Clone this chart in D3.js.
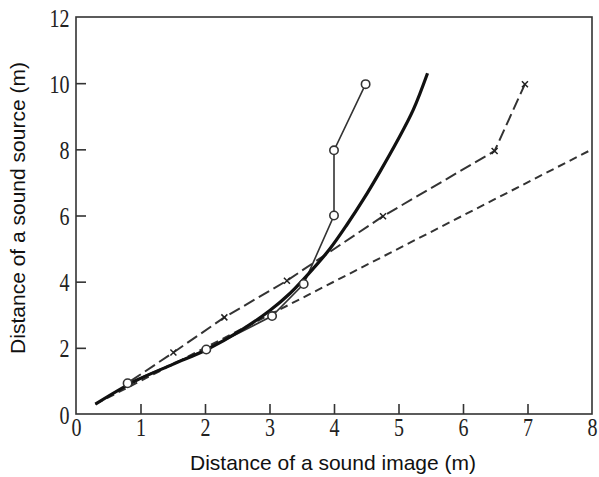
<!DOCTYPE html>
<html>
<head>
<meta charset="utf-8">
<script src="https://cdn.jsdelivr.net/npm/d3@7"></script>
<style>
  body { margin: 0; background: #fff; }
  svg { display: block; }
</style>
</head>
<body>
<script>
const width = 599, height = 477;
const margin = {top: 17, right: 7, bottom: 63, left: 76};

// axis ticks
const xTicks = [0, 1, 2, 3, 4, 5, 6, 7, 8];
const yTicks = [0, 2, 4, 6, 8, 10, 12];

// thick solid curve (image vs source)
const curveX = [0.3, 0.9, 1.5, 2.03, 2.55, 3.0, 3.32, 3.68, 3.94, 4.2, 4.46, 4.72, 4.98, 5.23, 5.45];
const curveY = [0.3, 0.98, 1.5, 1.95, 2.52, 3.12, 3.65, 4.4, 5.0, 5.72, 6.5, 7.35, 8.25, 9.2, 10.3];

// thin solid line with open circles
const circX = [0.8, 2.02, 3.04, 3.53, 4.0, 4.0, 4.49];
const circY = [0.93, 1.95, 2.96, 3.93, 6.0, 7.97, 9.97];

// long dashed line with crosses
const crossX = [0.85, 1.51, 2.3, 3.27, 4.76, 6.49, 6.96];
const crossY = [1.0, 1.86, 2.92, 4.03, 5.98, 7.95, 9.97];

// short dashed reference line
const refX = [0.3, 8];
const refY = [0.3, 8];

const zip = (a, b) => a.map((d, i) => [d, b[i]]);

const x = d3.scaleLinear().domain([0, 8]).range([margin.left, width - margin.right]);
const y = d3.scaleLinear().domain([0, 12]).range([height - margin.bottom, margin.top]);

const svg = d3.select("body").append("svg")
    .attr("width", width)
    .attr("height", height);

const ink = "#222";

// frame
svg.append("rect")
    .attr("x", x(0))
    .attr("y", y(12))
    .attr("width", x(8) - x(0))
    .attr("height", y(0) - y(12))
    .attr("fill", "none")
    .attr("stroke", "#333")
    .attr("stroke-width", 1.6);

const xAxis = svg.append("g")
    .attr("transform", `translate(0,${y(0)})`)
    .call(d3.axisBottom(x).tickValues(xTicks).tickSizeInner(-10).tickSizeOuter(0).tickPadding(4).tickFormat(d3.format("d")));

const yAxis = svg.append("g")
    .attr("transform", `translate(${x(0)},0)`)
    .call(d3.axisLeft(y).tickValues(yTicks).tickSizeInner(-10).tickSizeOuter(0).tickPadding(8).tickFormat(d3.format("d")));

[xAxis, yAxis].forEach(g => {
  g.select(".domain").remove();
  g.selectAll(".tick line")
      .attr("stroke", "#333")
      .attr("stroke-width", 1.6);
  g.selectAll(".tick text")
      .attr("fill", "#222")
      .style("font-family", "'Liberation Serif', 'DejaVu Serif', serif")
      .style("font-size", "25px");
});
// first/last inward ticks sit on the frame
xAxis.selectAll(".tick line").filter(d => d === 0 || d === 8).remove();
yAxis.selectAll(".tick line").filter(d => d === 0 || d === 12).remove();

xAxis.selectAll(".tick text")
    .attr("transform", "scale(0.8,1)");
yAxis.selectAll(".tick text")
    .attr("transform", "scale(0.8,1)")
    .attr("dy", "0.36em");

const line = d3.line().x(d => x(d[0])).y(d => y(d[1]));

// short-dashed reference
svg.append("path")
    .datum(zip(refX, refY))
    .attr("d", line)
    .attr("fill", "none")
    .attr("stroke", "#333")
    .attr("stroke-width", 2)
    .attr("stroke-dasharray", "8,5");

// long dashed with crosses
svg.append("path")
    .datum(zip(crossX, crossY))
    .attr("d", line)
    .attr("fill", "none")
    .attr("stroke", "#333")
    .attr("stroke-width", 2)
    .attr("stroke-dasharray", "12,5");

svg.append("g")
  .selectAll("path")
  .data(zip(crossX, crossY).slice(1))
  .join("path")
    .attr("transform", d => `translate(${x(d[0])},${y(d[1])})`)
    .attr("d", "M-3,-3L3,3M-3,3L3,-3")
    .attr("stroke", ink)
    .attr("stroke-width", 1.5);

// thin solid with circles
svg.append("path")
    .datum(zip(circX, circY))
    .attr("d", line)
    .attr("fill", "none")
    .attr("stroke", "#333")
    .attr("stroke-width", 1.6);

// thick solid curve
svg.append("path")
    .datum(zip(curveX, curveY))
    .attr("d", line.curve(d3.curveCatmullRom))
    .attr("fill", "none")
    .attr("stroke", "#111")
    .attr("stroke-width", 3.2);

svg.append("g")
  .selectAll("circle")
  .data(zip(circX, circY))
  .join("circle")
    .attr("cx", d => x(d[0]))
    .attr("cy", d => y(d[1]))
    .attr("r", 4.2)
    .attr("fill", "#fff")
    .attr("stroke", "#333")
    .attr("stroke-width", 1.6);

// axis titles
svg.append("text")
    .attr("x", 333)
    .attr("y", 470)
    .attr("text-anchor", "middle")
    .style("font-family", "'Liberation Sans', Arial, sans-serif")
    .style("font-size", "21px")
    .attr("fill", "#111")
    .text("Distance of a sound image (m)");

svg.append("text")
    .attr("transform", "translate(25,208) rotate(-90)")
    .attr("text-anchor", "middle")
    .style("font-family", "'Liberation Sans', Arial, sans-serif")
    .style("font-size", "21px")
    .attr("fill", "#111")
    .text("Distance of a sound source (m)");
</script>
</body>
</html>
